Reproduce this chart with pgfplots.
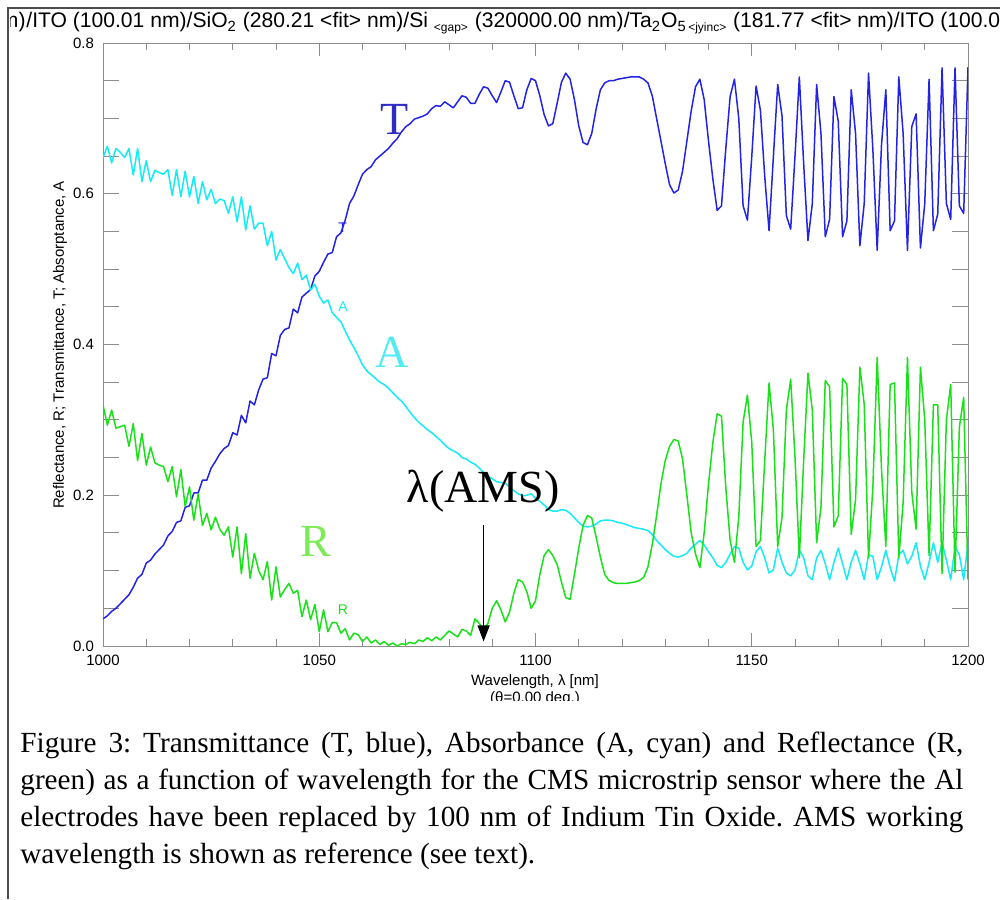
\documentclass[border=0pt]{standalone}
\usepackage{fontspec}
\setmainfont{Liberation Serif}
\newfontfamily\hv{Liberation Sans}
\usepackage{pgfplots}
\usepackage{pgfplotstable}
\pgfplotsset{compat=1.18}
\usetikzlibrary{arrows.meta}

\definecolor{Tcol}{RGB}{35,35,230}
\definecolor{Acol}{RGB}{20,235,245}
\definecolor{Rcol}{RGB}{25,225,25}
\definecolor{Tlab}{RGB}{45,45,195}
\definecolor{Alab}{RGB}{80,235,245}
\definecolor{Rlab}{RGB}{125,235,85}
\definecolor{frame}{RGB}{140,140,140}

% lambda [nm], transmittance, absorptance, reflectance
\pgfplotstableread{
lam T A R
1000 0.036 0.648 0.320
1001 0.040 0.663 0.293
1002 0.046 0.641 0.313
1003 0.050 0.660 0.289
1004 0.056 0.655 0.291
1005 0.062 0.648 0.293
1006 0.068 0.660 0.265
1007 0.078 0.625 0.295
1008 0.090 0.660 0.246
1009 0.095 0.616 0.282
1010 0.110 0.644 0.240
1011 0.114 0.616 0.264
1012 0.122 0.631 0.243
1013 0.128 0.628 0.240
1014 0.134 0.626 0.238
1015 0.146 0.632 0.218
1016 0.152 0.598 0.238
1017 0.164 0.632 0.198
1018 0.166 0.596 0.234
1019 0.184 0.630 0.185
1020 0.186 0.596 0.211
1021 0.203 0.623 0.167
1022 0.203 0.587 0.202
1023 0.220 0.616 0.160
1024 0.220 0.592 0.176
1025 0.236 0.606 0.154
1026 0.245 0.587 0.171
1027 0.255 0.593 0.155
1028 0.262 0.591 0.147
1029 0.266 0.574 0.158
1030 0.283 0.596 0.118
1031 0.280 0.563 0.158
1032 0.306 0.596 0.096
1033 0.296 0.552 0.149
1034 0.325 0.584 0.090
1035 0.320 0.553 0.123
1036 0.340 0.561 0.100
1037 0.354 0.561 0.088
1038 0.356 0.531 0.112
1039 0.388 0.550 0.061
1040 0.385 0.512 0.105
1041 0.412 0.526 0.065
1042 0.420 0.514 0.075
1043 0.422 0.502 0.083
1044 0.447 0.494 0.070
1045 0.442 0.508 0.074
1046 0.463 0.486 0.039
1047 0.468 0.492 0.061
1048 0.473 0.472 0.035
1049 0.491 0.480 0.055
1050 0.497 0.464 0.019
1051 0.509 0.455 0.048
1052 0.520 0.459 0.019
1053 0.522 0.442 0.031
1054 0.543 0.436 0.031
1055 0.548 0.430 0.017
1056 0.565 0.418 0.023
1057 0.587 0.406 0.008
1058 0.597 0.396 0.017
1059 0.612 0.385 0.015
1060 0.626 0.373 0.006
1061 0.632 0.365 0.012
1062 0.636 0.360 0.004
1063 0.645 0.355 0.008
1064 0.650 0.350 0.002
1065 0.655 0.347 0.006
1066 0.660 0.342 0.001
1067 0.667 0.336 0.004
1068 0.673 0.330 0.000
1069 0.682 0.325 0.003
1070 0.689 0.318 0.002
1071 0.693 0.310 0.005
1072 0.699 0.303 0.003
1073 0.701 0.297 0.008
1074 0.703 0.292 0.006
1075 0.706 0.287 0.011
1076 0.713 0.283 0.007
1077 0.717 0.278 0.012
1078 0.716 0.273 0.008
1079 0.722 0.267 0.014
1080 0.718 0.262 0.020
1081 0.714 0.259 0.016
1082 0.722 0.256 0.012
1083 0.730 0.250 0.022
1084 0.728 0.248 0.020
1085 0.720 0.244 0.014
1086 0.720 0.241 0.036
1087 0.732 0.236 0.030
1088 0.742 0.230 0.022
1089 0.740 0.225 0.030
1090 0.730 0.222 0.050
1091 0.721 0.218 0.060
1092 0.735 0.217 0.048
1093 0.750 0.216 0.032
1094 0.748 0.211 0.045
1095 0.730 0.206 0.070
1096 0.713 0.202 0.088
1097 0.714 0.199 0.085
1098 0.738 0.200 0.072
1099 0.753 0.202 0.050
1100 0.750 0.196 0.060
1101 0.730 0.192 0.095
1102 0.705 0.187 0.120
1103 0.690 0.181 0.128
1104 0.693 0.179 0.120
1105 0.720 0.179 0.108
1106 0.748 0.181 0.085
1107 0.760 0.180 0.064
1108 0.752 0.176 0.062
1109 0.725 0.170 0.095
1110 0.690 0.164 0.130
1111 0.668 0.159 0.160
1112 0.665 0.158 0.173
1113 0.680 0.159 0.170
1114 0.712 0.162 0.145
1115 0.738 0.166 0.118
1116 0.747 0.167 0.095
1117 0.750 0.167 0.087
1118 0.750 0.166 0.084
1119 0.752 0.164 0.083
1120 0.753 0.163 0.083
1121 0.754 0.161 0.083
1122 0.755 0.159 0.084
1123 0.755 0.157 0.085
1124 0.755 0.156 0.087
1125 0.752 0.155 0.091
1126 0.747 0.153 0.105
1127 0.730 0.148 0.135
1128 0.700 0.140 0.173
1129 0.670 0.134 0.215
1130 0.640 0.128 0.246
1131 0.612 0.123 0.265
1132 0.601 0.119 0.274
1133 0.605 0.118 0.272
1134 0.630 0.120 0.248
1135 0.670 0.123 0.200
1136 0.710 0.130 0.150
1137 0.742 0.135 0.122
1138 0.752 0.140 0.104
1139 0.725 0.134 0.150
1140 0.670 0.125 0.215
1141 0.620 0.117 0.270
1142 0.578 0.107 0.308
1143 0.584 0.104 0.305
1144 0.660 0.111 0.210
1145 0.729 0.122 0.140
1146 0.752 0.132 0.111
1147 0.700 0.130 0.171
1148 0.584 0.111 0.297
1149 0.565 0.101 0.333
1150 0.649 0.106 0.270
1151 0.743 0.125 0.132
1152 0.711 0.132 0.140
1153 0.623 0.117 0.246
1154 0.551 0.097 0.349
1155 0.649 0.101 0.287
1156 0.745 0.130 0.132
1157 0.703 0.111 0.171
1158 0.571 0.097 0.313
1159 0.553 0.093 0.354
1160 0.650 0.101 0.250
1161 0.755 0.127 0.117
1162 0.640 0.117 0.246
1163 0.538 0.093 0.362
1164 0.587 0.088 0.313
1165 0.745 0.117 0.137
1166 0.680 0.127 0.184
1167 0.543 0.109 0.352
1168 0.566 0.088 0.344
1169 0.729 0.111 0.158
1170 0.696 0.130 0.173
1171 0.543 0.109 0.355
1172 0.564 0.088 0.347
1173 0.738 0.111 0.148
1174 0.680 0.127 0.194
1175 0.531 0.109 0.370
1176 0.587 0.088 0.321
1177 0.760 0.121 0.117
1178 0.659 0.119 0.210
1179 0.525 0.088 0.383
1180 0.665 0.105 0.235
1181 0.738 0.127 0.132
1182 0.551 0.104 0.347
1183 0.564 0.086 0.349
1184 0.755 0.121 0.117
1185 0.680 0.127 0.190
1186 0.525 0.109 0.383
1187 0.689 0.119 0.204
1188 0.706 0.137 0.155
1189 0.528 0.106 0.370
1190 0.587 0.088 0.300
1191 0.752 0.111 0.120
1192 0.551 0.137 0.320
1193 0.573 0.111 0.320
1194 0.767 0.137 0.096
1195 0.587 0.114 0.300
1196 0.566 0.088 0.347
1197 0.767 0.132 0.098
1198 0.584 0.121 0.290
1199 0.574 0.088 0.330
1200 0.768 0.137 0.088
}\spectrum

\newcommand{\tickfont}{\hv\fontsize{7.5}{9}\selectfont}
\newcommand{\titlefont}{\hv\fontsize{10.55}{12}\selectfont}
\newcommand{\capline}[1]{\makebox[471.5pt][s]{#1}}

\begin{document}
\frenchspacing
\begin{tikzpicture}[x=0.5pt,y=-0.5pt]
\path[use as bounding box] (0,0) rectangle (1000,899);
% outer frame of the figure
\draw[black!70, line width=0.6pt] (8,899) -- (8,8) -- (1000,8);
% layer stack written above the plot
\begin{scope}
\clip (10.5,9) rectangle (1000,40);
\node[anchor=base east, inner sep=0pt] at (26,28) {\titlefont (100.00 nm)};
\node[anchor=base west, inner sep=0pt] at (26,28) {\titlefont /ITO (100.01 nm)/SiO\textsubscript{2} (280.21 <fit> nm)/Si \textsubscript{\fontsize{6}{7}\selectfont <gap>} (320000.00 nm)/Ta\textsubscript{2}O\textsubscript{5\,\fontsize{6}{7}\selectfont <jyinc>} (181.77 <fit> nm)/ITO (100.00 nm)/};
\end{scope}
\coordinate (SW) at (103,646);
\begin{axis}[
  at={(SW)}, anchor=south west,
  scale only axis, width=432.5pt, height=301.5pt,
  xmin=1000, xmax=1200, ymin=0, ymax=0.8,
  axis line style={frame, line width=0.5pt},
  tick style={frame, line width=0.5pt},
  tick align=inside,
  xtick={1000,1050,1100,1150,1200}, minor x tick num=4,
  ytick={0,0.05,0.1,0.15,0.2,0.25,0.3,0.35,0.4,0.45,0.5,0.55,0.6,0.65,0.7,0.75,0.8},
  yticklabels={0.0,,,,0.2,,,,0.4,,,,0.6,,,,0.8},
  major tick length=6.5pt, minor tick length=3.5pt,
  ytick style={/pgfplots/major tick length=8pt},
  /pgf/number format/assume math mode=true,
  xticklabel style={font=\tickfont, /pgf/number format/1000 sep={}, yshift=-1pt},
  yticklabel style={font=\tickfont, xshift=-1pt},
  every axis plot/.append style={line width=0.75pt, line join=round},
]
\addplot[Tcol] table[x=lam, y=T] {\spectrum};
\addplot[Acol] table[x=lam, y=A] {\spectrum};
\addplot[Rcol] table[x=lam, y=R] {\spectrum};
% curve labels
\node[Tlab, font=\fontsize{23}{26}\selectfont] at (axis cs:1067.5,0.698) {T};
\node[Alab, font=\fontsize{23}{26}\selectfont] at (axis cs:1066.8,0.390) {A};
\node[Rlab, font=\fontsize{23}{26}\selectfont] at (axis cs:1049.2,0.139) {R};
\node[Tcol, font=\hv\fontsize{7}{8}\selectfont] at (axis cs:1055.4,0.555) {T};
\node[Acol, font=\hv\fontsize{7}{8}\selectfont] at (axis cs:1055.5,0.450) {A};
\node[Rcol, font=\hv\fontsize{7}{8}\selectfont] at (axis cs:1055.5,0.048) {R};
% working wavelength of the alignment system
\node[black, font=\fontsize{23}{26}\selectfont] at (axis cs:1087.9,0.205) {λ(AMS)};
\draw[black, line width=0.6pt, -{Triangle[width=6pt,length=8pt]}] (axis cs:1088,0.160) -- (axis cs:1088,0.006);
\end{axis}
\node[font=\tickfont] at (60,345) [rotate=90] {Reflectance, R; Transmittance, T; Absorptance, A};
\begin{scope}
\clip (9,650) rectangle (1000,700);
\node[font=\tickfont, anchor=base] at (535,685) {Wavelength, λ [nm]};
\node[font=\tickfont, anchor=base] at (535,702) {(θ=0.00 deg.)};
\end{scope}
% caption, justified except for its last line
\begin{scope}[every node/.style={anchor=base west, inner sep=0pt, font=\fontsize{14.6}{17}\selectfont}]
\node at (20,752) {\capline{Figure 3: Transmittance (T, blue), Absorbance (A, cyan) and Reflectance (R,}};
\node at (20,789) {\capline{green) as a function of wavelength for the CMS microstrip sensor where the Al}};
\node at (20,826) {\capline{electrodes have been replaced by 100 nm of Indium Tin Oxide. AMS working}};
\node at (20,863) {wavelength is shown as reference (see text).};
\end{scope}
\end{tikzpicture}
\end{document}
